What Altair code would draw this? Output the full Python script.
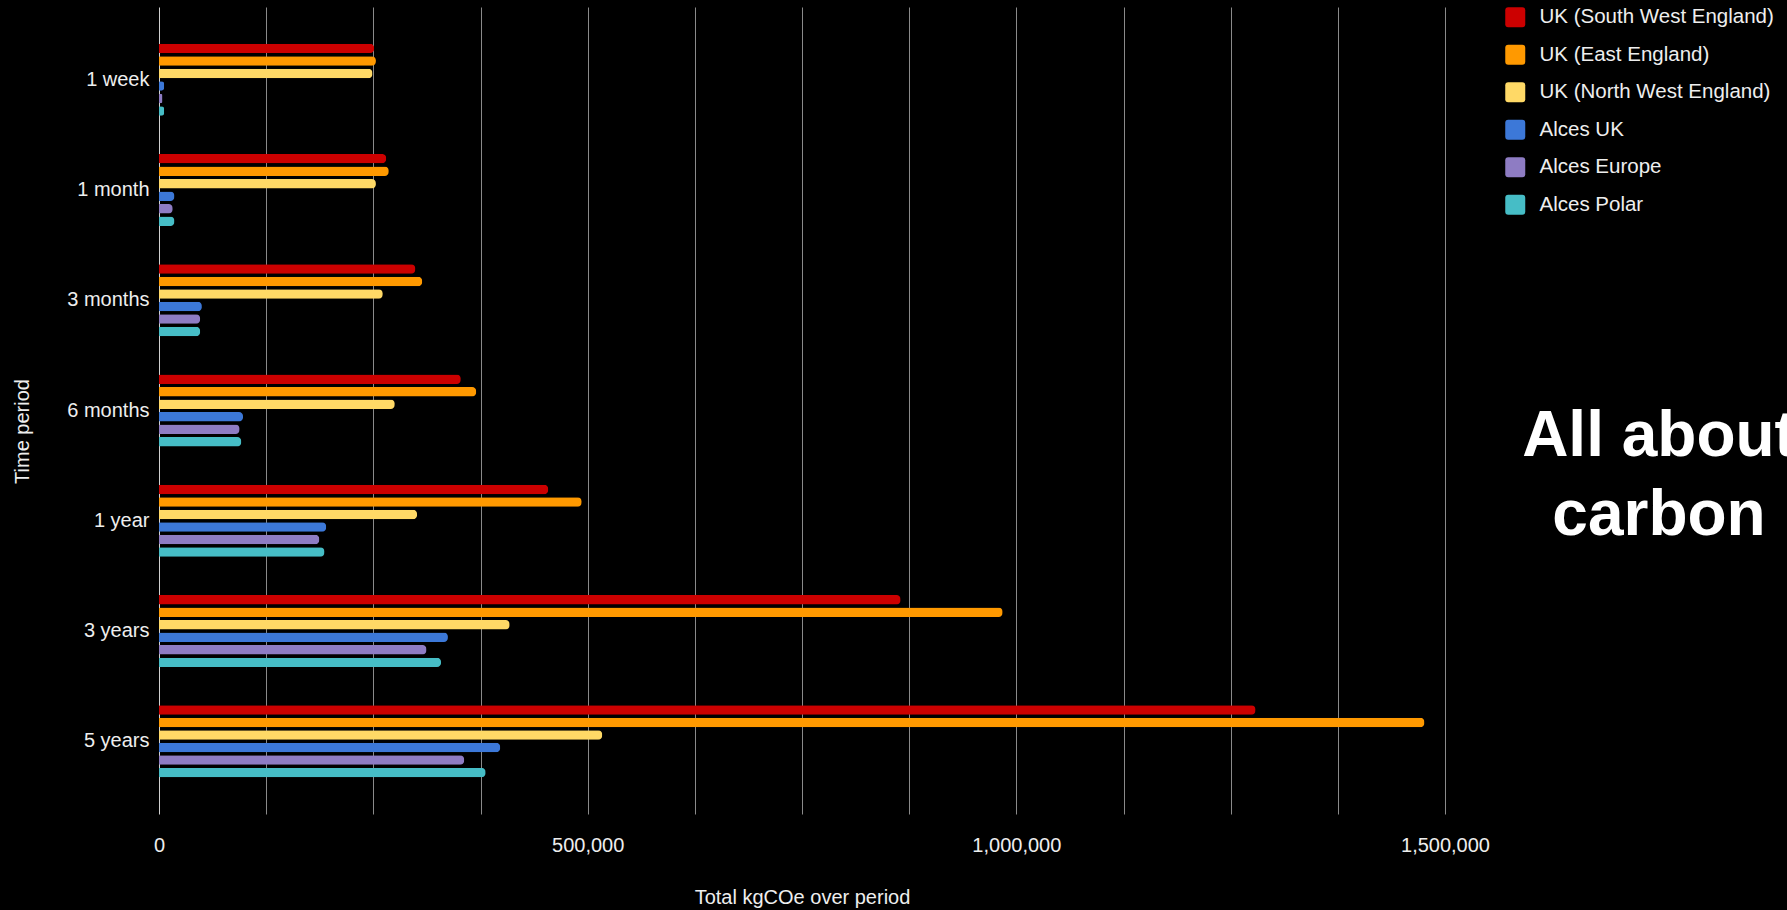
import altair as alt
import pandas as pd

# Time periods (y categories) and the series shown for each
periods = ["1 week", "1 month", "3 months", "6 months", "1 year", "3 years", "5 years"]
series = [
    "UK (South West England)",
    "UK (East England)",
    "UK (North West England)",
    "Alces UK",
    "Alces Europe",
    "Alces Polar",
]
colors = ["#cc0000", "#ff9900", "#ffd966", "#3c78d8", "#8e7cc3", "#46bdc6"]

# Total kgCOe over each period, one list per series
uk_south_west = [251000, 265000, 299000, 352000, 454000, 865000, 1279000]
uk_east = [253000, 268000, 307000, 370000, 493000, 984000, 1476000]
uk_north_west = [249000, 253000, 261000, 275000, 301000, 409000, 517000]
alces_uk = [6000, 18000, 50000, 98000, 195000, 337000, 398000]
alces_europe = [4000, 16000, 48000, 94000, 187000, 312000, 356000]
alces_polar = [6000, 18000, 48000, 96000, 193000, 329000, 381000]

x_ticks = list(range(0, 1500001, 125000))

values = [uk_south_west, uk_east, uk_north_west, alces_uk, alces_europe, alces_polar]
rows = []
for name, vals in zip(series, values):
    for p, v in zip(periods, vals):
        rows.append({"period": p, "series": name, "kg": v})
df = pd.DataFrame(rows)

FONT = "Liberation Sans"
TEXT = "#eeeeee"

rounded_square = (
    "M-1,-0.7 Q-1,-1 -0.7,-1 L0.7,-1 Q1,-1 1,-0.7 L1,0.7 Q1,1 0.7,1 "
    "L-0.7,1 Q-1,1 -1,0.7 Z"
)

bars = alt.Chart(df).mark_bar(cornerRadiusEnd=4).encode(
    x=alt.X(
        "kg:Q",
        scale=alt.Scale(domain=[0, 1500000], nice=False),
        axis=alt.Axis(
            title="Total kgCOe over period",
            values=x_ticks,
            labelExpr="datum.value % 500000 === 0 ? format(datum.value, ',') : ''",
            labelFlush=False,
            grid=True,
            gridColor=alt.condition("datum.value === 0", alt.value("#d0d0d0"), alt.value("#8a8a8a")),
            gridWidth=1,
            domain=False,
            ticks=False,
            tickSize=0,
            labelFont=FONT,
            labelFontSize=20,
            labelColor=TEXT,
            labelBaseline="alphabetic",
            labelPadding=37,
            titleFont=FONT,
            titleFontSize=20,
            titleFontWeight="normal",
            titleColor=TEXT,
            titleBaseline="alphabetic",
            titleY=89,
        ),
    ),
    y=alt.Y(
        "period:N",
        sort=periods,
        scale=alt.Scale(paddingInner=0.347, paddingOuter=0.333),
        axis=alt.Axis(
            title="Time period",
            domain=False,
            ticks=False,
            tickSize=0,
            labelFont=FONT,
            labelFontSize=20,
            labelColor=TEXT,
            labelPadding=10,
            labelLimit=300,
            titleFont=FONT,
            titleFontSize=20,
            titleFontWeight="normal",
            titleColor=TEXT,
            titleAngle=270,
            titleBaseline="middle",
            titleAlign="center",
            titleX=-137,
            titleY=424,
        ),
    ),
    yOffset=alt.YOffset("series:N", sort=series, scale=alt.Scale(paddingInner=0.25)),
    color=alt.Color(
        "series:N",
        sort=series,
        scale=alt.Scale(domain=series, range=colors),
        legend=alt.Legend(
            title=None,
            orient="none",
            legendX=1346,
            legendY=0,
            padding=0,
            symbolType=rounded_square,
            symbolSize=400,
            symbolStrokeWidth=0,
            labelFont=FONT,
            labelFontSize=20.5,
            labelColor=TEXT,
            labelOffset=14,
            rowPadding=16.5,
            labelLimit=400,
        ),
    ),
)

headline = alt.Chart(pd.DataFrame({"t": ["All about\ncarbon"]})).mark_text(
    font=FONT,
    fontSize=64,
    fontWeight="bold",
    color="#ffffff",
    align="center",
    baseline="alphabetic",
    lineBreak="\n",
    lineHeight=79,
).encode(text="t:N", x=alt.value(1500), y=alt.value(449))

chart = (
    alt.layer(bars, headline)
    .properties(
        width=1286,
        height=807,
        autosize=alt.AutoSizeParams(type="none"),
        padding={"left": 159, "top": 7, "right": 342, "bottom": 96},
        background="#000000",
    )
    .configure_view(stroke=None)
)

chart.save("out.html", embed_options={"renderer": "svg", "actions": False})
